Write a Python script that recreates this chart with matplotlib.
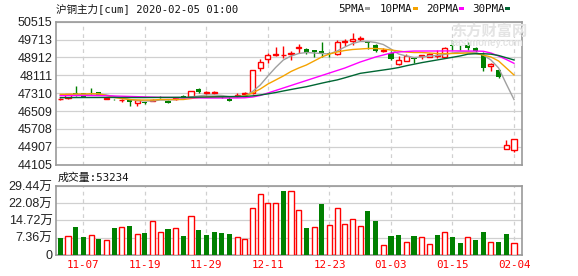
import matplotlib

matplotlib.use("Agg")
import matplotlib.pyplot as plt
import numpy as np
import pandas as pd
from matplotlib.patches import Rectangle

# trading days 2019-11-04 .. 2020-02-04 (New Year / Spring Festival closed)
holidays = ["2020-01-01", "2020-01-24", "2020-01-27", "2020-01-28",
            "2020-01-29", "2020-01-30", "2020-01-31"]
dates = pd.bdate_range("2019-11-04", "2020-02-04", freq="C", holidays=holidays)

opens = [47040, 47080, 47305, 47305, 47330, 47350, 47060, 47050, 46990, 47035,
         46885, 46900, 46975, 47120, 46975, 47035, 47200, 47155, 47500, 47310,
         47320, 47200, 47050, 47200, 47270, 47305, 48426, 48830, 49040, 49000,
         49060, 49320, 49280, 49230, 49200, 49130, 49067, 49600, 49670, 49740,
         49600, 49470, 49200, 49125, 48620, 48770, 48890, 48960, 48950, 48980,
         48950, 49480, 49350, 49470, 49320, 49022, 48530, 48350, 44790, 44764]
highs = [47100, 47290, 47632, 47330, 47530, 47360, 47100, 47070, 47060, 47050,
         47020, 46930, 47040, 47200, 46990, 47100, 47230, 47400, 47560, 47430,
         47430, 47210, 47140, 47330, 47360, 48340, 48843, 49125, 49395, 49440,
         49200, 49530, 49320, 49250, 49600, 49150, 49690, 49730, 49990, 49870,
         49620, 49510, 49330, 49215, 48990, 49060, 48950, 49040, 49100, 49240,
         49400, 49690, 49470, 49590, 49370, 49170, 48680, 48395, 45210, 45243]
lows = [47000, 47060, 47180, 47140, 47250, 47220, 47040, 47000, 46900, 46735,
        46750, 46830, 46960, 47080, 46860, 47020, 47060, 47140, 47310, 47250,
        47280, 47110, 46940, 47140, 47230, 47290, 48320, 48650, 48977, 48870,
        48800, 49100, 49080, 48920, 48950, 48950, 49020, 49440, 49470, 49650,
        49280, 49170, 49170, 48800, 48570, 48750, 48650, 48860, 48920, 48870,
        48870, 49250, 49250, 49250, 49125, 48320, 48320, 47980, 44790, 44660]
closes = [47060, 47270, 47198, 47153, 47275, 47230, 47080, 47030, 47020, 46930,
          47005, 46880, 47020, 47100, 46885, 47080, 47080, 47390, 47360, 47360,
          47370, 47130, 46980, 47230, 47330, 48330, 48695, 49023, 49060, 49030,
          49090, 49360, 49120, 49140, 49100, 49070, 49620, 49660, 49720, 49800,
          49560, 49215, 49250, 48830, 48820, 48990, 48840, 49000, 49060, 49030,
          49320, 49440, 49320, 49320, 49215, 48425, 48600, 48050, 45010, 45243]

ma5 = [47207, 47229, 47251, 47251, 47274, 47274, 47229, 47162, 47094, 47027,
       46982, 46960, 46960, 47005, 47005, 47027, 47072, 47139, 47184, 47229,
       47229, 47207, 47162, 47162, 47184, 47386, 47677, 48081, 48462, 48798,
       48977, 49089, 49134, 49112, 49089, 49067, 49202, 49381, 49538, 49627,
       49627, 49583, 49493, 49291, 49067, 48977, 48910, 48933, 48977, 49000,
       49045, 49112, 49157, 49157, 49134, 49022, 48798, 48439, 47722, 47027]
ma10 = [47260, 47260, 47274, 47274, 47283, 47283, 47207, 47117, 47072, 47027,
        47005, 47005, 47005, 47027, 47027, 47027, 47027, 47072, 47117, 47139,
        47153, 47153, 47153, 47153, 47184, 47319, 47498, 47722, 47901, 48081,
        48283, 48439, 48574, 48753, 48933, 49067, 49157, 49224, 49269, 49291,
        49314, 49314, 49291, 49246, 49202, 49157, 49134, 49134, 49112, 49089,
        49089, 49089, 49098, 49112, 49089, 49022, 48933, 48753, 48439, 48126]
ma20 = [47200, 47200, 47205, 47205, 47205, 47200, 47195, 47185, 47175, 47165,
        47155, 47145, 47135, 47125, 47120, 47115, 47110, 47105, 47100, 47095,
        47095, 47095, 47095, 47098, 47105, 47139, 47207, 47319, 47431, 47543,
        47655, 47767, 47879, 47991, 48103, 48215, 48327, 48439, 48574, 48708,
        48820, 48933, 49022, 49112, 49157, 49179, 49200, 49200, 49202, 49202,
        49205, 49205, 49205, 49200, 49200, 49190, 49112, 48977, 48820, 48650]
ma30 = [47110, 47112, 47115, 47116, 47117, 47118, 47120, 47120, 47118, 47116,
        47115, 47115, 47118, 47120, 47122, 47125, 47128, 47130, 47135, 47140,
        47145, 47150, 47155, 47160, 47165, 47190, 47230, 47280, 47340, 47410,
        47476, 47540, 47601, 47680, 47760, 47835, 47905, 48000, 48100, 48200,
        48250, 48300, 48350, 48400, 48460, 48540, 48610, 48680, 48740, 48800,
        48860, 48920, 48980, 49060, 49080, 49080, 49060, 49000, 48900, 48800]

# volume in 万 lots, colour flag as drawn in the volume panel
volumes = [7.14, 7.86, 11.86, 7.57, 8.29, 6.71, 6.29, 11.43, 11.71, 12.29,
           8.71, 9.29, 14.29, 9.71, 11.0, 11.29, 8.0, 16.43, 10.57, 8.43,
           9.71, 9.43, 8.86, 7.43, 6.57, 19.86, 25.86, 22.0, 22.0, 27.29,
           27.14, 19.0, 11.43, 11.71, 21.71, 12.57, 19.86, 13.0, 15.14, 12.14,
           18.71, 14.43, 4.0, 8.0, 8.43, 5.29, 8.0, 7.43, 4.43, 8.43,
           9.71, 7.57, 5.0, 7.43, 6.29, 9.71, 5.43, 5.43, 8.86, 5.0]
vol_up = "GRGGRGRGRGRGRRGRGRGGGGGRRRRRRGRRGRGRRRRRGGRGGRGRRGRGGRGGRGGR"

price_ticks = [44105, 44907, 45708, 46509, 47310, 48111, 48912, 49713, 50515]
vol_ticks = [0, 7.36, 14.72, 22.08, 29.44]
vol_labels = ["0", "7.36万", "14.72万", "22.08万", "29.44万"]

RED = "#ff0000"
GREEN = "#008000"
GRID = "#d0d0d0"
FRAME = "#999999"
MA_STYLE = [("5PMA", ma5, "#a0a0a0"), ("10PMA", ma10, "#f5a300"),
            ("20PMA", ma20, "#ff00ff"), ("30PMA", ma30, "#006633")]
MONO = ["DejaVu Sans Mono", "Noto Sans CJK SC"]
SANS = ["Liberation Sans", "Noto Sans CJK SC"]

W, H = 578, 276
fig = plt.figure(figsize=(W / 100, H / 100), dpi=100)
ax = fig.add_axes([56 / W, 1 - 164.7 / H, 466 / W, 143 / H])
axv = fig.add_axes([56 / W, 1 - 254.7 / H, 466 / W, 68.7 / H])

x = np.arange(len(opens))
tick_idx = x[3::8]
bw = 0.66

for a in (ax, axv):
    a.set_xlim(-0.56, 60.04)
    for s in a.spines.values():
        s.set_color(FRAME)
        s.set_linewidth(1.2)
    a.set_xticks(tick_idx)
    a.tick_params(length=0, labelsize=8.5, colors="#222222", pad=2.5)
    for t in tick_idx:
        a.axvline(t, color=GRID, ls=(0, (3, 3)), lw=0.9, zorder=0)

# candles
for i in x:
    o, h, l, c = opens[i], highs[i], lows[i], closes[i]
    lo, hi = min(o, c), max(o, c)
    body = max(hi - lo, 12)
    if c >= o:
        ax.vlines(i, hi, h, color=RED, lw=1, zorder=2)
        ax.vlines(i, l, lo, color=RED, lw=1, zorder=2)
        ax.bar(i, body, bw, bottom=lo, facecolor="white", edgecolor=RED,
               lw=1, zorder=3)
    else:
        ax.vlines(i, l, h, color=GREEN, lw=1, zorder=2)
        ax.bar(i, body, bw, bottom=lo, color=GREEN, lw=0, zorder=3)

for name, vals, col in MA_STYLE:
    ax.plot(x, vals, color=col, lw=1, zorder=4)

ax.set_ylim(price_ticks[0], price_ticks[-1])
ax.set_yticks(price_ticks)
ax.set_yticklabels([str(v) for v in price_ticks], family=SANS, fontsize=9)
ax.set_xticklabels([])
ax.grid(axis="y", color=GRID, lw=0.9, zorder=0)
ax.set_axisbelow(True)

# volume
for i in x:
    if vol_up[i] == "R":
        axv.bar(i, volumes[i], bw, facecolor="white", edgecolor=RED, lw=1,
                zorder=3)
    else:
        axv.bar(i, volumes[i], bw, color=GREEN, lw=0, zorder=3)
axv.set_ylim(0, vol_ticks[-1])
axv.set_yticks(vol_ticks)
axv.set_yticklabels(vol_labels, family=SANS, fontsize=9)
axv.set_xticklabels([d.strftime("%m-%d") for d in dates[3::8]],
                    family=MONO, fontsize=7.8, color=RED)
axv.tick_params(axis="x", pad=4)
axv.grid(axis="y", color=GRID, lw=0.9, zorder=0)
axv.set_axisbelow(True)

# header texts
fig.text(56 / W, 1 - 8.5 / H, "沪铜主力[cum] 2020-02-05 01:00", family=MONO,
         fontsize=7.6, va="center", ha="left", color="#111111")
lx = [338, 380, 426, 472]
for (name, vals, col), px in zip(MA_STYLE, lx):
    t = fig.text(px / W, 1 - 8.5 / H, name, family=MONO, fontsize=7.8,
                 va="center", ha="left", color="#111111")
    w = len(name) * 5.75
    fig.add_artist(Rectangle(((px + w + 4) / W, 1 - 10 / H), 5 / W, 3 / H,
                             transform=fig.transFigure, color=col, lw=0))
fig.text(58 / W, 1 - 177.5 / H, "成交量:53234", family=MONO, fontsize=7.8,
         va="center", ha="left", color="#111111")

# watermark
fig.text(451 / W, 1 - 31 / H, "东方财富网", family=SANS, fontsize=11,
         fontweight="bold", color="#e4e4e4", va="center", ha="left", zorder=0)
fig.text(451 / W, 1 - 42.5 / H, "eastmoney.com", family=SANS, fontsize=7,
         fontweight="bold", color="#e4e4e4", va="center", ha="left", zorder=0)

fig.savefig("out.png", dpi=100)
